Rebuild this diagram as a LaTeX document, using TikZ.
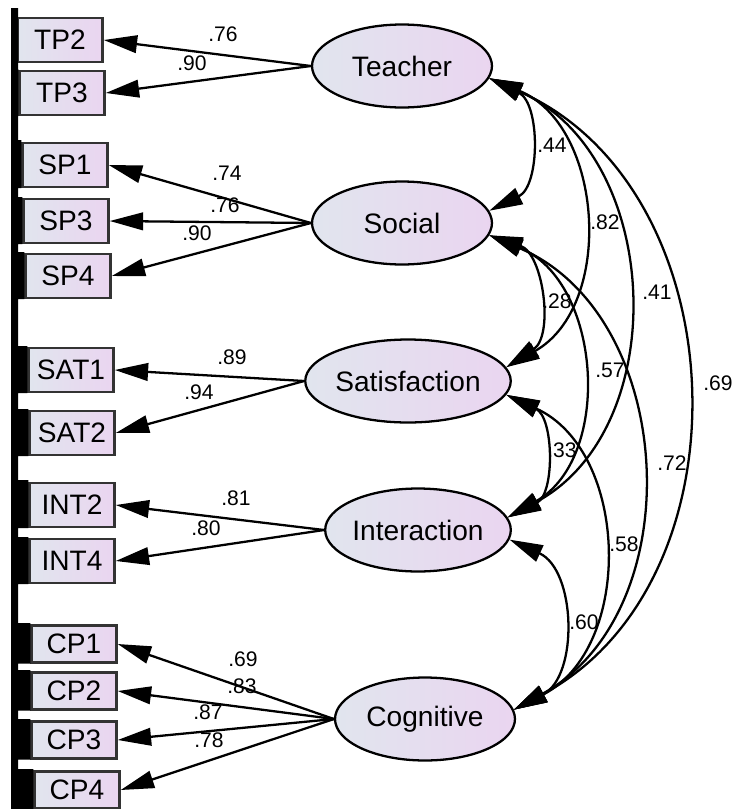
\documentclass[tikz,border=0pt]{standalone}
\usepackage{fontspec}
\setmainfont{Liberation Sans}
\usetikzlibrary{arrows.meta,shapes.geometric}

\definecolor{fillleft}{RGB}{225,229,238}
\definecolor{fillright}{RGB}{234,213,240}

\tikzset{
    obs/.style={draw=black!80, line width=1.4pt, left color=fillleft, right color=fillright,
        minimum width=1.7cm, minimum height=0.88cm, inner sep=0pt, font=\fontsize{16}{18}\selectfont},
    obssmall/.style={obs, minimum height=0.74cm},
    lat/.style={ellipse, draw, line width=1.3pt, left color=fillleft, right color=fillright,
        minimum width=3.6cm, minimum height=1.66cm, inner sep=0pt, font=\fontsize{16}{18}\selectfont},
    load/.style={-{Triangle[length=19pt,width=10pt]}, line width=1.3pt},
    cov/.style={{Triangle[length=19pt,width=10pt]}-{Triangle[length=19pt,width=10pt]},
        line width=1.3pt, bend left=64, looseness=1.1},
    est/.style={font=\fontsize{12}{14}\selectfont, inner sep=0pt}
}

\begin{document}
\begin{tikzpicture}[x=0.02cm, y=-0.02cm]
    \useasboundingbox (0,0) rectangle (735,809);

    % 观测变量
    \node[obs] (TP2) at (60,40) {TP2};
    \node[obs] (TP3) at (62,93) {TP3};
    \node[obs] (SP1) at (65,165) {SP1};
    \node[obs] (SP3) at (66,221) {SP3};
    \node[obs] (SP4) at (68,276) {SP4};
    \node[obs] (SAT1) at (71,370) {SAT1};
    \node[obs] (SAT2) at (72,433) {SAT2};
    \node[obs] (INT2) at (72,505) {INT2};
    \node[obs] (INT4) at (72,561) {INT4};
    \node[obssmall] (CP1) at (74,644) {CP1};
    \node[obssmall] (CP2) at (74,691) {CP2};
    \node[obssmall] (CP3) at (74,740) {CP3};
    \node[obssmall] (CP4) at (77,790) {CP4};

    % 左边的黑条
    \fill (11,8) rectangle (18,809)
        (11,14) rectangle (TP2.south west)
        (11,69) rectangle (TP3.south west)
        (11,140) rectangle (SP1.south west)
        (11,197) rectangle (SP3.south west)
        (11,252) rectangle (SP4.south west)
        (11,346) rectangle (SAT1.south west)
        (11,409) rectangle (SAT2.south west)
        (11,480) rectangle (INT2.south west)
        (11,537) rectangle (INT4.south west)
        (11,623) rectangle (CP1.south west)
        (11,670) rectangle (CP2.south west)
        (11,719) rectangle (CP3.south west)
        (11,769) rectangle (CP4.south west);

    % 潜变量
    \node[lat] (Teacher) at (402,66) {Teacher};
    \node[lat] (Social) at (402,223) {Social};
    \node[lat] (Satisfaction) at (408,381) {Satisfaction};
    \node[lat] (Interaction) at (418,530) {Interaction};
    \node[lat] (Cognitive) at (425,719) {Cognitive};

    % 因子载荷
    \draw[load] (Teacher.west) -- (TP2.east);
    \draw[load] (Teacher.west) -- (TP3.east);
    \draw[load] (Social.west) -- (SP1.east);
    \draw[load] (Social.west) -- (SP3.east);
    \draw[load] (Social.west) -- (SP4.east);
    \draw[load] (Satisfaction.west) -- (SAT1.east);
    \draw[load] (Satisfaction.west) -- (SAT2.east);
    \draw[load] (Interaction.west) -- (INT2.east);
    \draw[load] (Interaction.west) -- (INT4.east);
    \draw[load] (Cognitive.west) -- (CP1.east);
    \draw[load] (Cognitive.west) -- (CP2.east);
    \draw[load] (Cognitive.west) -- (CP3.east);
    \draw[load] (Cognitive.west) -- (CP4.east);

    \node[est] (lTP2) at (223,34) {.76};
    \node[est] (lTP3) at (192,63) {.90};
    \node[est] (lSP1) at (227,173) {.74};
    \node[est] (lSP3) at (225,205) {.76};
    \node[est] (lSP4) at (197,233) {.90};
    \node[est] (lSAT1) at (232,357) {.89};
    \node[est] (lSAT2) at (199,392) {.94};
    \node[est] (lINT2) at (236,498) {.81};
    \node[est] (lINT4) at (206,528) {.80};
    \node[est] (lCP1) at (243,659) {.69};
    \node[est] (lCP2) at (242,686) {.83};
    \node[est] (lCP3) at (208,712) {.87};
    \node[est] (lCP4) at (209,740) {.78};

    % 相关
    \draw[cov] (Teacher.-8) to (Social.8);
    \draw[cov] (Teacher.-8) to (Satisfaction.8);
    \draw[cov] (Teacher.-8) to (Interaction.8);
    \draw[cov] (Teacher.-8) to (Cognitive.6);
    \draw[cov] (Social.-8) to (Satisfaction.8);
    \draw[cov] (Social.-8) to (Interaction.8);
    \draw[cov] (Social.-8) to (Cognitive.6);
    \draw[cov] (Satisfaction.-8) to (Interaction.8);
    \draw[cov] (Satisfaction.-8) to (Cognitive.6);
    \draw[cov] (Interaction.-6) to (Cognitive.6);

    \node[est] (rTS) at (552,145) {.44};
    \node[est] (rTSat) at (605,222) {.82};
    \node[est] (rTI) at (657,292) {.41};
    \node[est] (rTC) at (718,383) {.69};
    \node[est] (rSSat) at (557,301) {.28};
    \node[est] (rSI) at (610,370) {.57};
    \node[est] (rSC) at (672,463) {.72};
    \node[est] (rSatI) at (562,450) {.33};
    \node[est] (rSatC) at (624,544) {.58};
    \node[est] (rIC) at (584,622) {.60};
\end{tikzpicture}
\end{document}
